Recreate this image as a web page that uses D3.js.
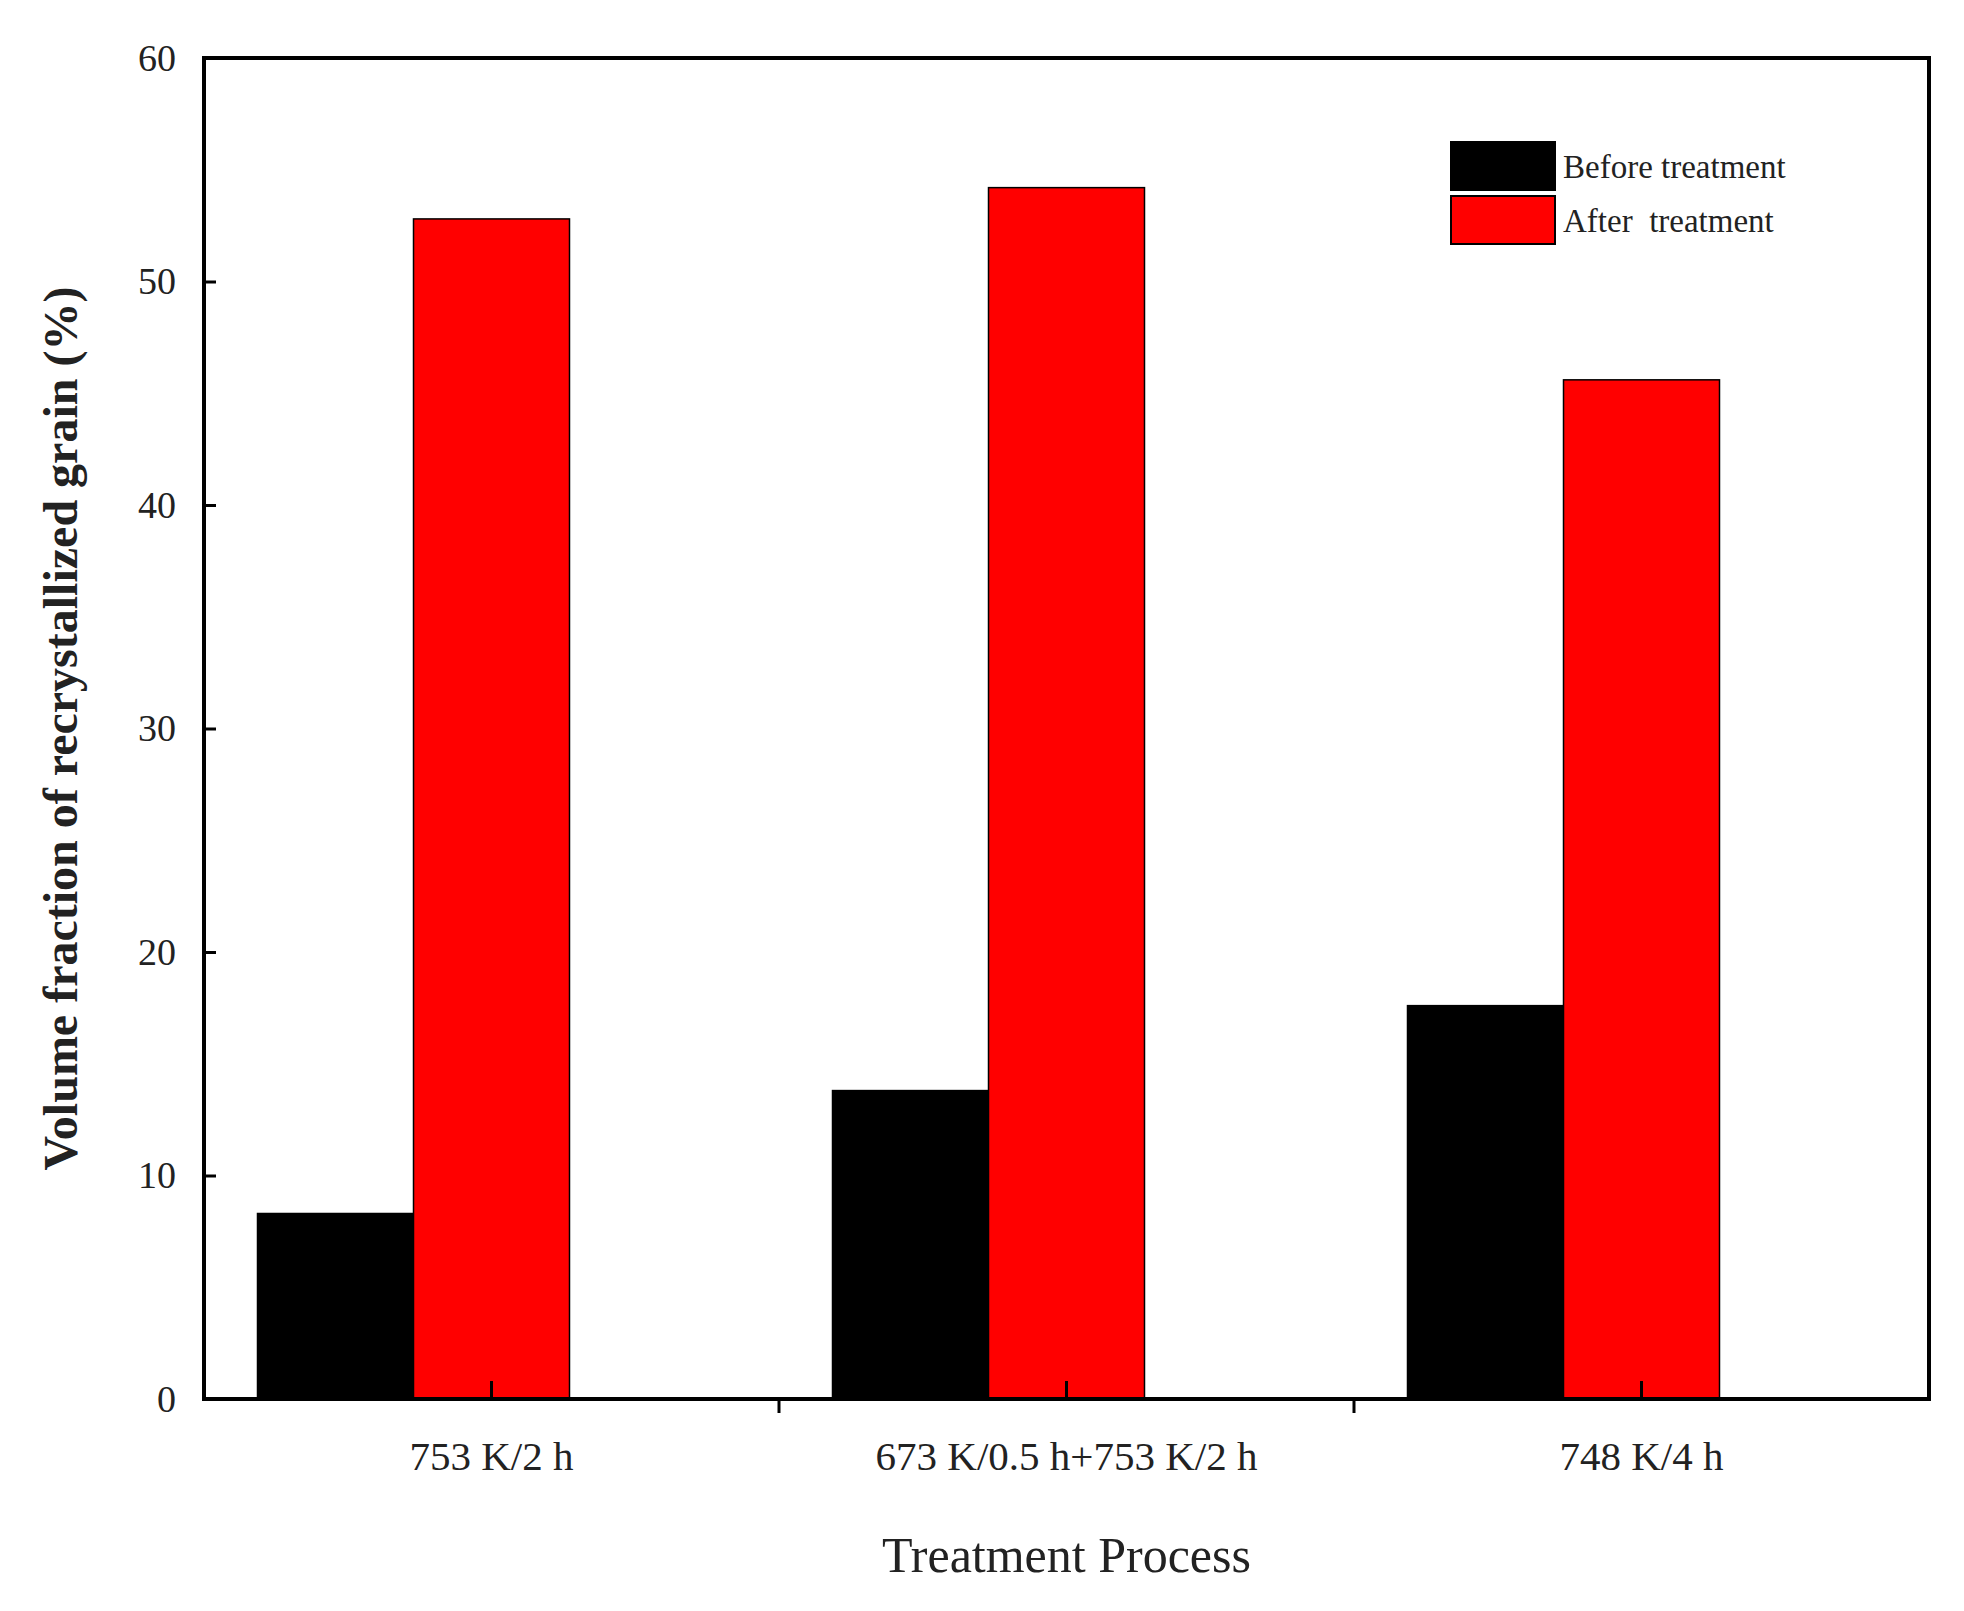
<!DOCTYPE html>
<html>
<head>
<meta charset="utf-8">
<script src="https://cdn.jsdelivr.net/npm/d3@7"></script>
<style>
  body { margin: 0; background: #fff; }
  text { font-family: "Liberation Serif", "DejaVu Serif", serif; }
</style>
</head>
<body>
<div id="chart"></div>
<script>
const categories = ['753 K/2 h', '673 K/0.5 h+753 K/2 h', '748 K/4 h']
const seriesNames = ['Before treatment', 'After  treatment']
const beforeValues = [8.3, 13.8, 17.6]
const afterValues = [52.8, 54.2, 45.6]
const yTicks = [0, 10, 20, 30, 40, 50, 60]
const colors = ['#000000', '#ff0000']

const W = 1964, H = 1611
const m = { left: 204, right: 35, top: 58, bottom: 212 }

const svg = d3.select('#chart').append('svg')
  .attr('width', W).attr('height', H)

const x = d3.scaleBand().domain(categories).range([m.left, W - m.right]).padding(0)
const y = d3.scaleLinear().domain([0, 60]).range([H - m.bottom, m.top])
const bw = 156

const series = [beforeValues, afterValues]
series.forEach((vals, si) => {
  svg.selectAll('.bar' + si).data(categories).join('rect')
    .attr('x', d => x(d) + x.bandwidth() / 2 - 1.5 * bw + si * bw)
    .attr('width', bw)
    .attr('y', (d, i) => y(vals[i]))
    .attr('height', (d, i) => y(0) - y(vals[i]))
    .attr('fill', colors[si])
    .attr('stroke', '#000').attr('stroke-width', 1.5)
})

// frame
svg.append('rect')
  .attr('x', m.left).attr('y', m.top)
  .attr('width', W - m.left - m.right).attr('height', H - m.top - m.bottom)
  .attr('fill', 'none').attr('stroke', '#000').attr('stroke-width', 4)

// y axis
const yAxis = svg.append('g').attr('transform', `translate(${m.left},0)`)
  .call(d3.axisLeft(y).tickValues(yTicks).tickSize(-12).tickPadding(28))
yAxis.select('.domain').remove()
yAxis.selectAll('line').attr('stroke-width', 3)
yAxis.selectAll('text').attr('font-size', 38).attr('fill', '#222')

// x axis: inward ticks at category centres, outward at boundaries
const xAxis = svg.append('g').attr('transform', `translate(0,${H - m.bottom})`)
  .call(d3.axisBottom(x).tickSize(-18).tickPadding(42))
xAxis.select('.domain').remove()
xAxis.selectAll('line').attr('stroke-width', 3)
xAxis.selectAll('text').attr('font-size', 41).attr('fill', '#222')
xAxis.selectAll('.bound').data(categories.slice(1)).join('line')
  .attr('x1', d => x(d)).attr('x2', d => x(d))
  .attr('y1', 0).attr('y2', 14)
  .attr('stroke', '#000').attr('stroke-width', 3)

// titles
svg.append('text')
  .attr('transform', `translate(66,${(m.top + H - m.bottom) / 2}) rotate(-90)`)
  .attr('text-anchor', 'middle').attr('dominant-baseline', 'middle')
  .attr('font-size', 48).attr('font-weight', 'bold').attr('fill', '#222')
  .text('Volume fraction of recrystallized grain (%)')
svg.append('text')
  .attr('x', x(categories[1]) + x.bandwidth() / 2).attr('y', 1572)
  .attr('text-anchor', 'middle')
  .attr('font-size', 50).attr('fill', '#222')
  .text('Treatment Process')

// legend
const lg = svg.append('g').attr('transform', 'translate(1451,142)')
seriesNames.forEach((n, i) => {
  lg.append('rect').attr('x', 0).attr('y', i * 54).attr('width', 104).attr('height', 48)
    .attr('fill', colors[i]).attr('stroke', '#000').attr('stroke-width', 2)
  lg.append('text').attr('x', 112).attr('y', i * 54 + 36)
    .attr('font-size', 33).attr('fill', '#222')
    .style('white-space', 'pre')
    .text(n)
})
</script>
</body>
</html>
